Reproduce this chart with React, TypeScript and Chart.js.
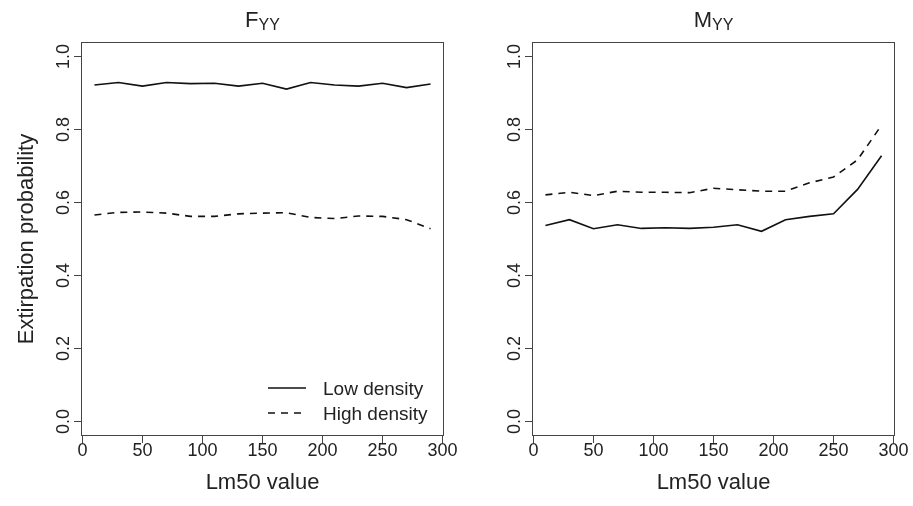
import React, { useEffect, useRef } from "react";
import { Chart, registerables } from "chart.js";

Chart.register(...registerables);

// ---- data ----
const lm50 = [10, 30, 50, 70, 90, 110, 130, 150, 170, 190, 210, 230, 250, 270, 290];
const fyyLow = [0.922, 0.929, 0.919, 0.929, 0.926, 0.927, 0.919, 0.927, 0.911, 0.929, 0.922, 0.919, 0.927, 0.915, 0.925];
const fyyHigh = [0.566, 0.573, 0.574, 0.571, 0.562, 0.562, 0.569, 0.571, 0.572, 0.559, 0.556, 0.563, 0.562, 0.553, 0.528];
const myyLow = [0.537, 0.553, 0.528, 0.539, 0.529, 0.531, 0.529, 0.532, 0.539, 0.521, 0.553, 0.562, 0.569, 0.636, 0.728];
const myyHigh = [0.621, 0.628, 0.619, 0.631, 0.628, 0.628, 0.627, 0.639, 0.635, 0.631, 0.631, 0.654, 0.670, 0.717, 0.812];
const xTicks = [0, 50, 100, 150, 200, 250, 300];
const yTicks = [0, 0.2, 0.4, 0.6, 0.8, 1.0];
const seriesNames = ["Low density", "High density"];
const panelMain = ["F", "M"];
const panelSub = ["YY", "YY"];
const xTitle = "Lm50 value";
const yTitle = "Extirpation probability";

const FAMILY = "'Liberation Sans', Arial, Helvetica, sans-serif";
const TEXT = "#222";
const LINE = "#111";
const AXIS = "#444";
const DASH = [7, 6];
const LW = 1.6;

type PanelCfg = {
  idx: number;
  low: number[];
  high: number[];
  showYTitle: boolean;
  showLegend: boolean;
  yAxisW: number;
  padRight: number;
};

function makeChart(canvas: HTMLCanvasElement, cfg: PanelCfg) {
  const overlay = {
    id: "rstyle",
    afterDraw(chart: any) {
      const { ctx, chartArea: ca, scales } = chart;
      ctx.save();
      // box
      ctx.strokeStyle = AXIS;
      ctx.lineWidth = 1;
      const l = Math.round(ca.left) + 0.5;
      const t = Math.round(ca.top) + 0.5;
      const r = Math.round(ca.right) - 0.5;
      const b = Math.round(ca.bottom) - 0.5;
      ctx.strokeRect(l, t, r - l, b - t);

      // rotated y tick labels
      ctx.fillStyle = TEXT;
      ctx.font = `18px ${FAMILY}`;
      ctx.textAlign = "center";
      ctx.textBaseline = "middle";
      for (const v of yTicks) {
        const py = scales.y.getPixelForValue(v);
        ctx.save();
        ctx.translate(ca.left - 17, py);
        ctx.rotate(-Math.PI / 2);
        ctx.fillText(v.toFixed(1), 0, 0);
        ctx.restore();
      }

      // title with subscript
      const main = panelMain[cfg.idx];
      const sub = panelSub[cfg.idx];
      ctx.textAlign = "left";
      ctx.textBaseline = "alphabetic";
      ctx.font = `22px ${FAMILY}`;
      const w1 = ctx.measureText(main).width;
      ctx.font = `16px ${FAMILY}`;
      const w2 = ctx.measureText(sub).width;
      const cx = (ca.left + ca.right) / 2;
      const x0 = cx - (w1 + w2) / 2;
      ctx.font = `22px ${FAMILY}`;
      ctx.fillText(main, x0, 27);
      ctx.font = `16px ${FAMILY}`;
      ctx.fillText(sub, x0 + w1, 30);

      // legend
      if (cfg.showLegend) {
        const rows = [ca.bottom - 48, ca.bottom - 23];
        ctx.strokeStyle = LINE;
        ctx.lineWidth = LW;
        rows.forEach((ry, i) => {
          ctx.setLineDash(i === 1 ? DASH : []);
          ctx.beginPath();
          ctx.moveTo(ca.right - 176, ry);
          ctx.lineTo(ca.right - 138, ry);
          ctx.stroke();
        });
        ctx.setLineDash([]);
        ctx.font = `19px ${FAMILY}`;
        ctx.textBaseline = "middle";
        ctx.fillStyle = TEXT;
        rows.forEach((ry, i) => {
          ctx.fillText(seriesNames[i], ca.right - 121, ry + 2);
        });
      }
      ctx.restore();
    },
  };

  const gridOpts = {
    drawOnChartArea: false,
    drawTicks: true,
    tickLength: 7,
    color: AXIS,
    tickColor: AXIS,
    lineWidth: 1,
  };

  return new Chart(canvas, {
    type: "line",
    data: {
      datasets: [
        {
          label: seriesNames[0],
          data: lm50.map((x, i) => ({ x, y: cfg.low[i] })),
          borderColor: LINE,
          borderWidth: LW,
          pointRadius: 0,
          fill: false,
          tension: 0,
        },
        {
          label: seriesNames[1],
          data: lm50.map((x, i) => ({ x, y: cfg.high[i] })),
          borderColor: LINE,
          borderWidth: LW,
          borderDash: DASH,
          pointRadius: 0,
          fill: false,
          tension: 0,
        },
      ],
    },
    options: {
      responsive: false,
      animation: false,
      devicePixelRatio: 1,
      layout: { padding: { left: 0, top: 42, right: cfg.padRight, bottom: 0 } },
      plugins: {
        legend: { display: false },
        tooltip: { enabled: false },
        title: { display: false },
      },
      scales: {
        x: {
          type: "linear",
          position: "bottom",
          min: -1.2,
          max: 301.2,
          afterBuildTicks: (s: any) => {
            s.ticks = xTicks.map((v) => ({ value: v }));
          },
          afterFit: (s: any) => {
            s.height = 70;
          },
          grid: gridOpts,
          border: { display: false },
          ticks: {
            padding: -3,
            color: TEXT,
            font: { size: 18, family: FAMILY },
            maxRotation: 0,
            minRotation: 0,
            autoSkip: false,
            callback: (v: any) => String(v),
          },
          title: {
            display: true,
            text: xTitle,
            color: TEXT,
            font: { size: 22, family: FAMILY },
            padding: { top: 0, bottom: 10 },
          },
        },
        y: {
          type: "linear",
          min: -0.04,
          max: 1.04,
          afterBuildTicks: (s: any) => {
            s.ticks = yTicks.map((v) => ({ value: v }));
          },
          afterFit: (s: any) => {
            s.width = cfg.yAxisW;
          },
          grid: gridOpts,
          border: { display: false },
          ticks: { display: false },
          title: {
            display: cfg.showYTitle,
            text: yTitle,
            color: TEXT,
            font: { size: 22, family: FAMILY },
            padding: { top: 14, bottom: 0 },
          },
        },
      },
    },
    plugins: [overlay],
  } as any);
}

export default function App() {
  const leftRef = useRef<HTMLCanvasElement>(null);
  const rightRef = useRef<HTMLCanvasElement>(null);

  useEffect(() => {
    const c1 = makeChart(leftRef.current!, {
      idx: 0,
      low: fyyLow,
      high: fyyHigh,
      showYTitle: true,
      showLegend: true,
      yAxisW: 81,
      padRight: 26,
    });
    const c2 = makeChart(rightRef.current!, {
      idx: 1,
      low: myyLow,
      high: myyHigh,
      showYTitle: false,
      showLegend: false,
      yAxisW: 76,
      padRight: 18,
    });
    return () => {
      c1.destroy();
      c2.destroy();
    };
  }, []);

  return (
    <div style={{ position: "fixed", left: 0, top: 0, width: 913, height: 506, background: "#fff" }}>
      <canvas
        ref={leftRef}
        width={470}
        height={506}
        style={{ position: "absolute", left: 0, top: 0, width: 470, height: 506 }}
      />
      <canvas
        ref={rightRef}
        width={457}
        height={506}
        style={{ position: "absolute", left: 456, top: 0, width: 457, height: 506 }}
      />
    </div>
  );
}
